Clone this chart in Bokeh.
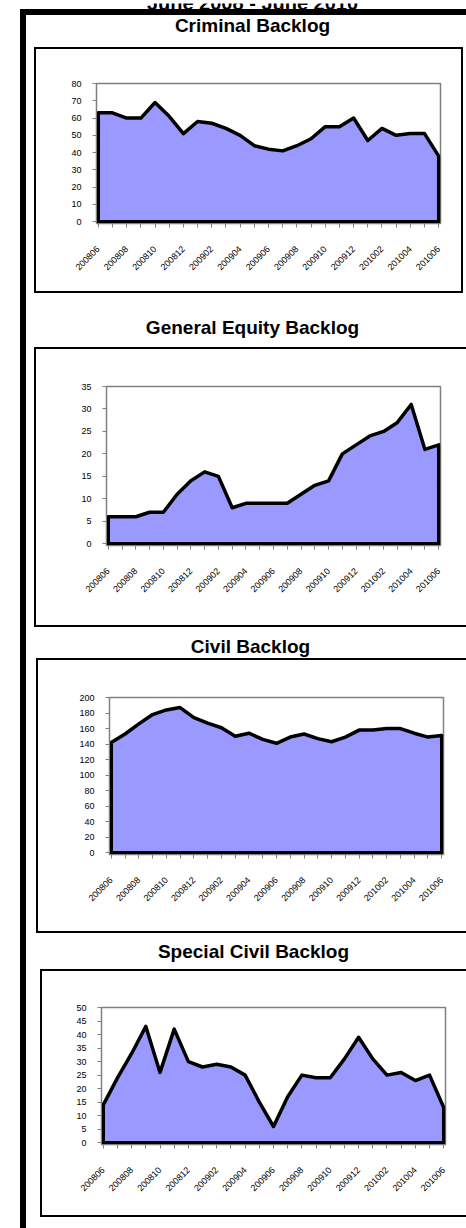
import math
from bokeh.plotting import figure
from bokeh.models import Range1d, FixedTicker, Spacer
from bokeh.layouts import column, row
from bokeh.core.properties import value
from bokeh.embed import file_html
from bokeh.resources import INLINE

page_title = "June 2008 - June 2010"
months = ["200806", "200807", "200808", "200809", "200810", "200811", "200812",
          "200901", "200902", "200903", "200904", "200905", "200906", "200907",
          "200908", "200909", "200910", "200911", "200912", "201001", "201002",
          "201003", "201004", "201005", "201006"]
shown_labels = ["200806", "200808", "200810", "200812", "200902", "200904", "200906",
                "200908", "200910", "200912", "201002", "201004", "201006"]

criminal = [63, 63, 60, 60, 69, 61, 51, 58, 57, 54, 50, 44, 42, 41, 44, 48, 55, 55,
            60, 47, 54, 50, 51, 51, 38]
general_equity = [6, 6, 6, 7, 7, 11, 14, 16, 15, 8, 9, 9, 9, 9, 11, 13, 14, 20, 22,
                  24, 25, 27, 31, 21, 22]
civil = [142, 153, 166, 178, 184, 187, 174, 167, 161, 150, 154, 146, 141, 149, 153,
         147, 143, 149, 158, 158, 160, 160, 154, 149, 151]
special_civil = [14, 24, 33, 43, 26, 42, 30, 28, 29, 28, 25, 15, 6, 17, 25, 24, 24,
                 31, 39, 31, 25, 26, 23, 25, 13]

titles = ["Criminal Backlog", "General Equity Backlog", "Civil Backlog",
          "Special Civil Backlog"]
series = [criminal, general_equity, civil, special_civil]
y_max = [80, 35, 200, 50]
y_step = [10, 5, 20, 5]

FONT = "Liberation Sans"
PAGE_W = 466
INNER_W = 440      # width inside the thick page frame
LINE = 2           # chart box line thickness


def black(w, h):
    return Spacer(width=w, height=h, styles={"background-color": "black"})


def blank(w, h):
    return Spacer(width=w, height=h)


def title_fig(text, w, h, cx, baseline, size):
    p = figure(width=w, height=h, output_backend="svg", toolbar_location=None,
               x_range=Range1d(0, w), y_range=Range1d(h, 0),
               x_axis_location=None, y_axis_location=None, min_border=0)
    p.title.visible = False
    p.outline_line_color = None
    p.xgrid.visible = False
    p.ygrid.visible = False
    p.text(x=[cx], y=[baseline], text=[text], text_align="center",
           text_baseline="alphabetic", text_font=value(FONT), text_font_style="bold",
           text_font_size=size, text_color="black")
    return p


def chart_fig(k, w, h, mbl, mbr, mbt, mbb):
    n = len(months)
    fw = w - mbl - mbr
    fh = h - mbt - mbb
    padx = 1.8 * (n - 1) / fw
    pady = 1.8 * y_max[k] / fh
    p = figure(width=w, height=h, output_backend="svg", toolbar_location=None,
               x_range=Range1d(-padx, n - 1 + padx), y_range=Range1d(-pady, y_max[k]),
               min_border_left=mbl, min_border_right=mbr,
               min_border_top=mbt, min_border_bottom=mbb)
    p.title.visible = False
    p.xgrid.visible = False
    p.ygrid.visible = False
    p.outline_line_color = "#808080"
    p.outline_line_width = 1.5

    vals = series[k]
    xs = [0] + list(range(n)) + [n - 1]
    ys = [0] + list(vals) + [0]
    p.patch(xs, ys, fill_color="#9999FF", line_color="black", line_width=3.5,
            line_join="round")

    p.xaxis.ticker = FixedTicker(ticks=list(range(n)))
    p.xaxis.major_label_overrides = {i: (months[i] if months[i] in shown_labels else "")
                                     for i in range(n)}
    p.xaxis.major_label_orientation = math.pi / 4
    p.yaxis.ticker = FixedTicker(ticks=list(range(0, y_max[k] + 1, y_step[k])))
    for ax in (p.xaxis[0], p.yaxis[0]):
        ax.axis_line_color = "#808080"
        ax.major_tick_line_color = "#808080"
        ax.major_tick_out = 4
        ax.major_tick_in = 0
        ax.minor_tick_line_color = None
        ax.major_label_text_font = FONT
        ax.major_label_text_font_size = "9px"
        ax.major_label_text_color = "black"
    p.xaxis.major_label_standoff = 20
    p.yaxis.major_label_standoff = 11
    return p


# ---- chart boxes ----
boxes = [
    dict(off=8, w=425, h=242, right=True, mb=(60, 21, 34, 68)),
    dict(off=8, w=430, h=276, right=False, mb=(70, 26, 37, 80)),
    dict(off=10, w=428, h=271, right=False, mb=(71, 23, 37, 77)),
    dict(off=14, w=424, h=244, right=False, mb=(59, 21, 36, 71)),
]
# title strips: height, centre x, baseline
title_strips = [(32, 226, 10), (54, 226, 34), (31, 224, 19), (36, 227, 18)]

inner_children = []
for k in range(4):
    th, tcx, tb = title_strips[k]
    inner_children.append(title_fig(titles[k], INNER_W, th, tcx, tb, "19px"))
    b = boxes[k]
    mbl, mbr, mbt, mbb = b["mb"]
    chart = chart_fig(k, b["w"], b["h"], mbl, mbr, mbt, mbb)
    outer_w = b["w"] + LINE + (LINE if b["right"] else 0)
    mid = [black(LINE, b["h"]), chart] + ([black(LINE, b["h"])] if b["right"] else [])
    box = column(black(outer_w, LINE), row(*mid, spacing=0), black(outer_w, LINE),
                 spacing=0)
    inner_children.append(row(blank(b["off"], b["h"] + 2 * LINE), box, spacing=0))
inner_children.append(blank(INNER_W, 11))
inner = column(*inner_children, spacing=0)

frame_block = column(black(6 + INNER_W, 6),
                     row(black(6, 1213), inner, spacing=0), spacing=0)
top = title_fig(page_title, PAGE_W, 9, 252, -1, "20px")
layout = column(top, row(blank(20, 1219), frame_block, spacing=0), spacing=0)

open("out.html", "w").write(file_html(layout, INLINE))
